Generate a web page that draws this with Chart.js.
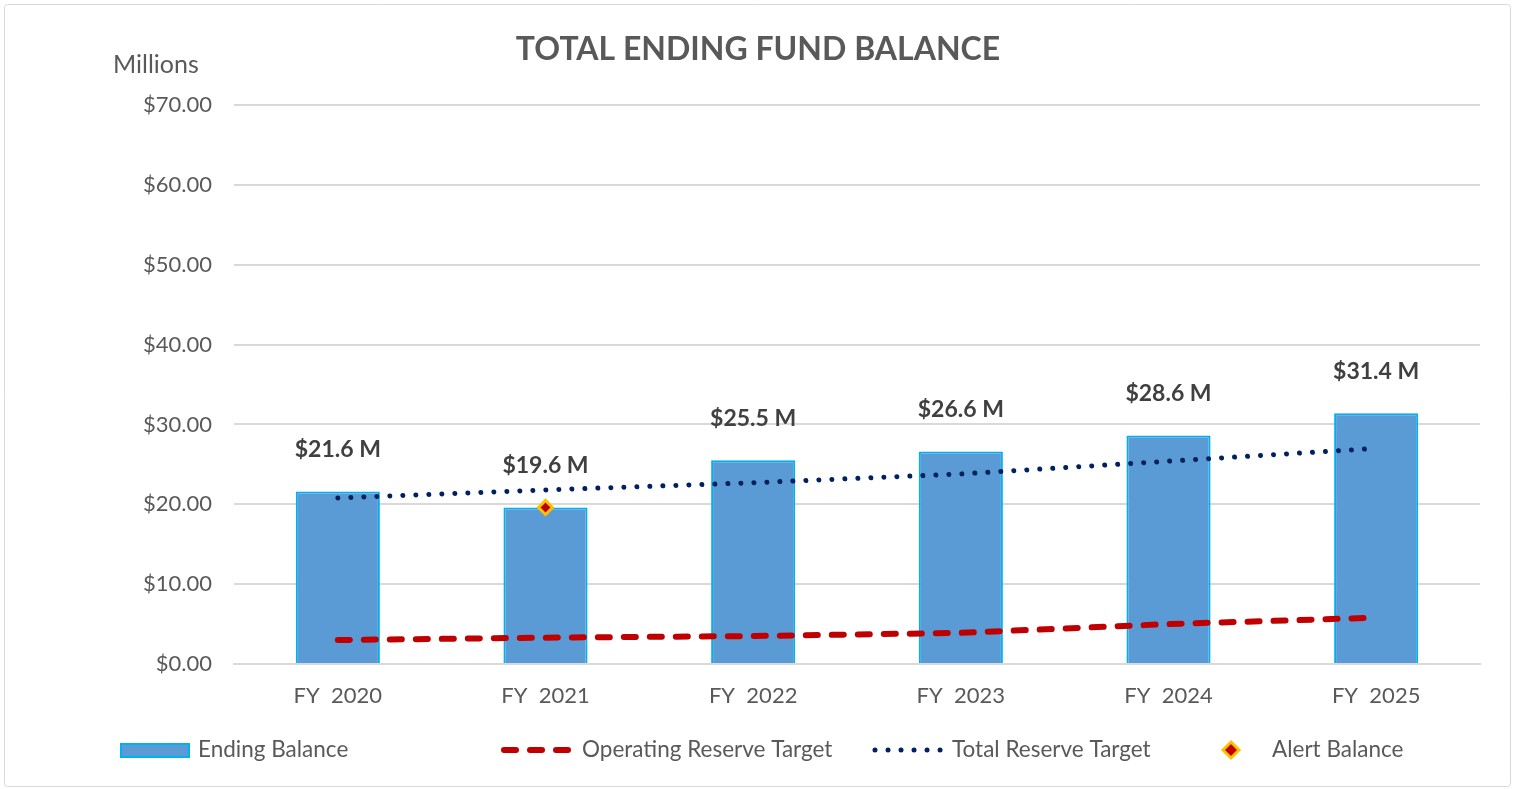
<!DOCTYPE html>
<html>
<head>
<meta charset="utf-8">
<script src="https://cdn.jsdelivr.net/npm/chart.js@4.4.1/dist/chart.umd.min.js"></script>
<style>
  body { margin: 0; background: #fff; }
  canvas { display: block; }
</style>
</head>
<body>
<canvas id="fund-chart" width="1517" height="789"></canvas>
<script>
// values (in millions)
const years = ["FY  2020", "FY  2021", "FY  2022", "FY  2023", "FY  2024", "FY  2025"];
const endingBalance = [21.6, 19.6, 25.5, 26.6, 28.6, 31.4];
const operatingReserve = [3.0, 3.3, 3.5, 3.9, 5.0, 5.8];
const totalReserve = [20.8, 21.8, 22.7, 23.8, 25.4, 27.0];
const alertBalance = [null, 19.6, null, null, null, null];
const balanceLabels = ["$21.6 M", "$19.6 M", "$25.5 M", "$26.6 M", "$28.6 M", "$31.4 M"];
const yTicks = [0, 10, 20, 30, 40, 50, 60, 70];

const FONT = "Lato, 'Open Sans', sans-serif";
const GREY = "#595959";

// frame, title, unit label, bar labels and the legend row
const extras = {
  id: 'extras',
  beforeDraw(chart) {
    const ctx = chart.ctx;
    ctx.save();
    ctx.fillStyle = '#fff';
    ctx.fillRect(0, 0, chart.width, chart.height);
    ctx.strokeStyle = '#d9d9d9';
    ctx.lineWidth = 1;
    ctx.beginPath();
    ctx.roundRect(4.5, 4.5, 1506, 782, 3);
    ctx.stroke();
    ctx.restore();
  },
  afterDraw(chart) {
    const ctx = chart.ctx;
    ctx.save();
    ctx.fillStyle = GREY;
    ctx.textAlign = 'center';
    ctx.textBaseline = 'middle';
    ctx.font = "bold 32px " + FONT;
    ctx.fillText("TOTAL ENDING FUND BALANCE", 758, 50);

    ctx.textAlign = 'left';
    ctx.font = "25px " + FONT;
    ctx.fillText("Millions", 113, 65);

    // value labels above the bars
    const bars = chart.getDatasetMeta(0).data;
    ctx.fillStyle = '#404040';
    ctx.textAlign = 'center';
    ctx.font = "bold 23px " + FONT;
    bars.forEach((b, i) => {
      ctx.fillText(balanceLabels[i], b.x, b.y - 42);
    });

    // legend
    const ly = 750;
    const ds = chart.data.datasets;
    ctx.font = "22.5px " + FONT;
    ctx.fillStyle = GREY;
    ctx.textAlign = 'left';

    ctx.fillStyle = ds[0].backgroundColor;
    ctx.strokeStyle = ds[0].borderColor;
    ctx.lineWidth = 2;
    ctx.fillRect(121, 744, 68, 13);
    ctx.strokeRect(121, 744, 68, 13);
    ctx.fillStyle = GREY;
    ctx.fillText(ds[0].label, 198, ly);

    ctx.strokeStyle = ds[1].borderColor;
    ctx.lineWidth = ds[1].borderWidth;
    ctx.lineCap = 'round';
    ctx.setLineDash(ds[1].borderDash);
    ctx.beginPath();
    ctx.moveTo(504, ly);
    ctx.lineTo(570, ly);
    ctx.stroke();
    ctx.fillText(ds[1].label, 582, ly);

    ctx.strokeStyle = ds[2].borderColor;
    ctx.lineWidth = ds[2].borderWidth;
    ctx.setLineDash(ds[2].borderDash);
    ctx.beginPath();
    ctx.moveTo(875, ly);
    ctx.lineTo(944, ly);
    ctx.stroke();
    ctx.setLineDash([]);
    ctx.fillText(ds[2].label, 952, ly);

    ctx.fillStyle = ds[3].backgroundColor;
    ctx.strokeStyle = ds[3].borderColor;
    ctx.lineWidth = ds[3].borderWidth;
    ctx.beginPath();
    ctx.moveTo(1231, ly - 8);
    ctx.lineTo(1239, ly);
    ctx.lineTo(1231, ly + 8);
    ctx.lineTo(1223, ly);
    ctx.closePath();
    ctx.fill();
    ctx.stroke();
    ctx.fillStyle = GREY;
    ctx.fillText(ds[3].label, 1272, ly);
    ctx.restore();
  }
};

new Chart(document.getElementById("fund-chart"), {
  type: 'bar',
  data: {
    labels: years,
    datasets: [
      {
        type: 'bar',
        label: "Ending Balance",
        data: endingBalance,
        backgroundColor: '#5B9BD5',
        borderColor: '#00B0F0',
        borderWidth: 2,
        barPercentage: 0.405,
        categoryPercentage: 1,
        order: 4
      },
      {
        type: 'line',
        label: "Operating Reserve Target",
        data: operatingReserve,
        borderColor: '#C00000',
        borderWidth: 6,
        borderDash: [12, 14],
        borderCapStyle: 'round',
        pointRadius: 0,
        tension: 0,
        order: 2
      },
      {
        type: 'line',
        label: "Total Reserve Target",
        data: totalReserve,
        borderColor: '#002060',
        borderWidth: 5,
        borderDash: [0.01, 13],
        borderCapStyle: 'round',
        pointRadius: 0,
        tension: 0,
        order: 1
      },
      {
        type: 'line',
        label: "Alert Balance",
        data: alertBalance,
        showLine: false,
        pointStyle: 'rectRot',
        pointRadius: 7,
        backgroundColor: '#C00000',
        borderColor: '#FFC000',
        borderWidth: 3,
        order: 0
      }
    ]
  },
  options: {
    responsive: false,
    animation: false,
    layout: { padding: { top: 105, right: 37, left: 0, bottom: 0 } },
    plugins: {
      legend: { display: false },
      title: { display: false },
      tooltip: { enabled: false }
    },
    scales: {
      x: {
        offset: true,
        grid: { display: false },
        border: { color: '#d9d9d9', width: 2 },
        ticks: { color: GREY, font: { family: FONT, size: 22 }, padding: 11 },
        afterFit: function(scale) { scale.height = 125; }
      },
      y: {
        min: 0,
        max: 70,
        afterBuildTicks: function(scale) { scale.ticks = yTicks.map(v => ({ value: v })); },
        grid: { color: '#d9d9d9', lineWidth: 2, drawTicks: false },
        border: { display: false },
        ticks: {
          color: GREY,
          font: { family: FONT, size: 22 },
          padding: 22,
          callback: v => '$' + v.toFixed(2)
        },
        afterFit: function(scale) { scale.width = 234; }
      }
    }
  },
  plugins: [extras]
});
</script>
</body>
</html>
